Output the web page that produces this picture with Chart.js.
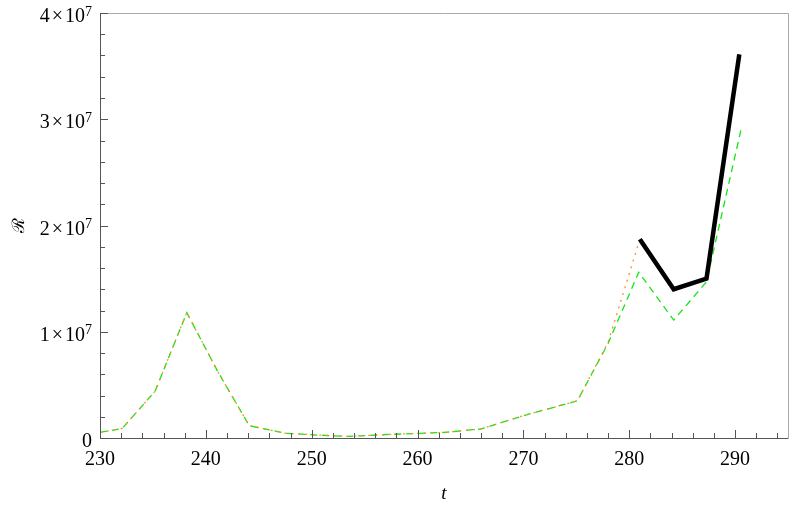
<!DOCTYPE html>
<html>
<head>
<meta charset="utf-8">
<script src="https://cdn.jsdelivr.net/npm/chart.js@4.4.1/dist/chart.umd.min.js"></script>
<style>
  html, body { margin: 0; padding: 0; background: #fff; }
  #wrap { width: 789px; height: 511px; }
</style>
</head>
<body>
<div id="wrap"><canvas id="c" width="789" height="511"></canvas></div>
<script>
// data (t, R in units of 1e6)
const tGreen = [230, 232.1, 235.2, 238.2, 241.1, 244.1, 247.5, 250.5, 253.5, 256.5, 259.5, 262.6, 266, 270, 275.1, 278, 280.9, 284.2, 287.3, 290.6];
const rGreen = [0.53, 0.9, 4.4, 11.8, 6.3, 1.16, 0.45, 0.28, 0.15, 0.3, 0.42, 0.53, 0.85, 2.1, 3.5, 8.9, 15.6, 11.1, 14.7, 29.2];
const tOrange = [230, 232.1, 235.2, 238.2, 241.1, 244.1, 247.5, 250.5, 253.5, 256.5, 259.5, 262.6, 266, 270, 275.1, 278, 281, 284.2, 287.3, 290.4];
const rOrange = [0.53, 0.9, 4.4, 11.8, 6.3, 1.16, 0.45, 0.28, 0.15, 0.3, 0.42, 0.53, 0.85, 2.1, 3.5, 9.0, 18.7, 14.0, 15.0, 36.1];
const tBlack = [281, 284.2, 287.3, 290.4];
const rBlack = [18.7, 14.0, 15.0, 36.1];

const xMin = 230, xMax = 295;
const yMax = 4e7;
const yLabelValues = [0, 1e7, 2e7, 3e7, 4e7];
const serif = '"Liberation Serif", "DejaVu Serif", serif';

const pts = (ts, rs) => ts.map((t, i) => ({ x: t, y: rs[i] * 1e6 }));

// frame + inward ticks + y labels with real superscripts, Mathematica style
const framePlugin = {
  id: 'frame',
  afterDraw(chart) {
    const { ctx, chartArea: a, scales } = chart;
    ctx.save();
    ctx.lineWidth = 1;
    ctx.strokeStyle = '#aaaaaa';
    ctx.beginPath();
    ctx.moveTo(a.left, a.top + 0.5); ctx.lineTo(a.right + 0.5, a.top + 0.5);
    ctx.lineTo(a.right + 0.5, a.bottom);
    ctx.stroke();
    ctx.strokeStyle = '#555555';
    ctx.beginPath();
    ctx.moveTo(a.left + 0.5, a.top); ctx.lineTo(a.left + 0.5, a.bottom + 0.5);
    ctx.lineTo(a.right + 0.5, a.bottom + 0.5);
    for (let v = xMin; v <= xMax; v += 2) {
      const px = Math.round(scales.x.getPixelForValue(v)) + 0.5;
      const len = v % 10 === 0 ? 8 : 5;
      ctx.moveTo(px, a.bottom); ctx.lineTo(px, a.bottom - len);
    }
    for (let v = 0; v <= yMax; v += 2e6) {
      const py = Math.round(scales.y.getPixelForValue(v)) + 0.5;
      const len = v % 1e7 === 0 ? 8 : 5;
      ctx.moveTo(a.left, py); ctx.lineTo(a.left + len, py);
    }
    ctx.stroke();

    // y tick labels: "n×10^7"
    ctx.fillStyle = '#000';
    ctx.textBaseline = 'alphabetic';
    ctx.textAlign = 'left';
    const big = '20px ' + serif, small = '14px ' + serif;
    const right = a.left - 8;
    yLabelValues.forEach((v) => {
      const y = scales.y.getPixelForValue(v) + 9;
      if (v === 0) {
        ctx.font = big;
        ctx.fillText('0', right - ctx.measureText('0').width, y);
        return;
      }
      const mant = String(v / 1e7);
      ctx.font = big;
      const wM = ctx.measureText(mant).width;
      const wX = ctx.measureText('×').width;
      const wT = ctx.measureText('10').width;
      ctx.font = small;
      const wE = ctx.measureText('7').width;
      let x = right - (wM + 2 + wX + 2 + wT + wE);
      ctx.font = big;
      ctx.fillText(mant, x, y); x += wM + 2;
      ctx.fillText('×', x, y); x += wX + 2;
      ctx.fillText('10', x, y); x += wT;
      ctx.font = small;
      ctx.fillText('7', x, y - 6.5);
    });
    ctx.restore();
  }
};

new Chart(document.getElementById('c'), {
  type: 'line',
  data: {
    datasets: [
      { label: 'black', data: pts(tBlack, rBlack), borderColor: '#000000', borderWidth: 4.5, pointRadius: 0 },
      { label: 'orange', data: pts(tOrange, rOrange), borderColor: 'rgb(255,140,40)', borderWidth: 1.3, borderDash: [2, 5], pointRadius: 0 },
      { label: 'green', data: pts(tGreen, rGreen), borderColor: 'rgb(20,230,20)', borderWidth: 1.3, borderDash: [7, 5], pointRadius: 0 }
    ]
  },
  plugins: [framePlugin],
  options: {
    responsive: false,
    animation: false,
    events: [],
    layout: { padding: { top: 13, right: 1, left: 0, bottom: 0 } },
    plugins: { legend: { display: false }, tooltip: { enabled: false } },
    scales: {
      x: {
        type: 'linear', min: xMin, max: xMax,
        border: { display: false },
        grid: { display: false, drawTicks: false },
        afterFit: (s) => { s.height = 73; },
        afterBuildTicks: (s) => { s.ticks = []; for (let v = xMin; v <= 290; v += 10) s.ticks.push({ value: v }); },
        ticks: {
          autoSkip: false, maxRotation: 0, padding: 10, color: '#000',
          font: { family: serif, size: 20 },
          callback: (v) => String(v)
        },
        title: {
          display: true, text: 't', color: '#000', padding: { top: 0, bottom: 6 },
          font: { family: serif, size: 19, style: 'italic' }
        }
      },
      y: {
        min: 0, max: yMax,
        border: { display: false },
        grid: { display: false, drawTicks: false },
        afterFit: (s) => { s.width = 100; },
        afterBuildTicks: (s) => { s.ticks = []; for (let v = 0; v <= yMax; v += 1e7) s.ticks.push({ value: v }); },
        ticks: { display: false },
        title: {
          display: true, text: 'ℛ', color: '#000', padding: { top: 9, bottom: 0 },
          font: { family: '"DejaVu Serif", "Liberation Serif", serif', size: 17 }
        }
      }
    }
  }
});
</script>
</body>
</html>
